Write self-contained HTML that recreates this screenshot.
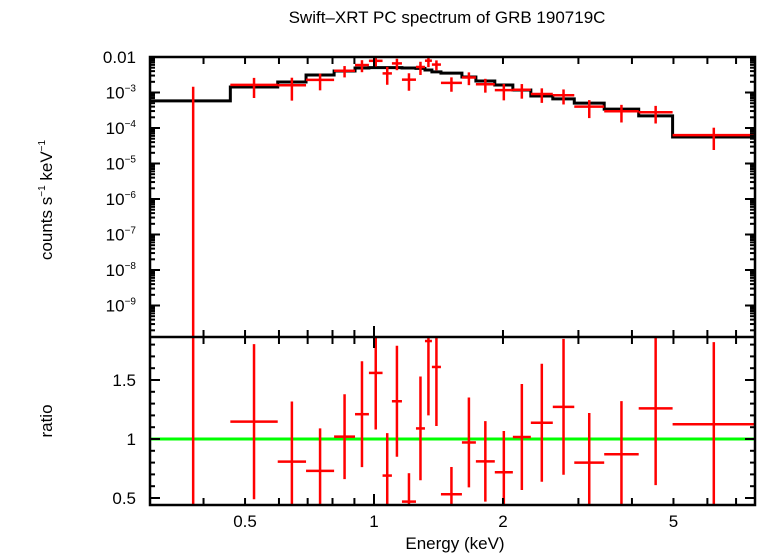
<!DOCTYPE html>
<html><head><meta charset="utf-8"><style>
html,body{margin:0;padding:0;background:#fff;overflow:hidden;width:758px;height:556px;}
svg{display:block;font-family:"Liberation Sans",sans-serif;}
</style></head><body>
<svg id="chart" width="758" height="556" viewBox="0 0 758 556">
<text x="447" y="23" font-size="17" text-anchor="middle">Swift–XRT PC spectrum of GRB 190719C</text>
<text transform="translate(52,200) rotate(-90)" font-size="17" text-anchor="middle">counts s<tspan font-size="10" dy="-7">−1</tspan><tspan dy="7"> keV</tspan><tspan font-size="10" dy="-7">−1</tspan></text>
<text transform="translate(52,421) rotate(-90)" font-size="17" text-anchor="middle">ratio</text>
<text x="455" y="549" font-size="17" text-anchor="middle">Energy (keV)</text>
<defs>
<clipPath id="cTop"><rect x="150" y="57" width="605" height="280"/></clipPath>
<clipPath id="cBot"><rect x="150" y="337" width="605" height="168"/></clipPath>
</defs>
<g id="gTop" clip-path="url(#cTop)"></g>
<g id="gBot" clip-path="url(#cBot)"></g>
<g id="gAxes"></g>
</svg>
<script>
const binEdges = [0.30,0.462,0.596,0.694,0.807,0.903,0.973,1.047,1.101,1.162,1.253,1.315,1.365,1.433,1.604,1.729,1.914,2.109,2.323,2.614,2.934,3.446,4.148,4.977,7.75];
const rate = [-2.9e-4,1.64e-3,1.60e-3,2.27e-3,4.11e-3,5.93e-3,7.8e-3,3.45e-3,6.6e-3,2.3e-3,5.23e-3,7.87e-3,6.12e-3,1.86e-3,2.65e-3,1.71e-3,1.17e-3,1.20e-3,9.1e-4,8.4e-4,4.0e-4,2.96e-4,2.77e-4,6.3e-5];
const rateErr = [1.74e-3,9.4e-4,1.01e-3,1.12e-3,1.45e-3,2.2e-3,2.4e-3,1.8e-3,2.35e-3,1.18e-3,2.11e-3,2.71e-3,1.9e-3,8.1e-4,1.04e-3,7.2e-4,5.7e-4,5.3e-4,4.0e-4,3.8e-4,2.1e-4,1.53e-4,1.43e-4,3.9e-5];
const model = [5.8e-4,1.43e-3,1.98e-3,3.11e-3,4.03e-3,4.9e-3,5.0e-3,5.0e-3,5.0e-3,4.9e-3,4.8e-3,4.3e-3,3.8e-3,3.5e-3,2.73e-3,2.11e-3,1.63e-3,1.18e-3,8.0e-4,6.6e-4,5.0e-4,3.4e-4,2.2e-4,5.6e-5];
const xTickLabels = ["0.5","1","2","5"];
const xTickValues = [0.5,1,2,5];
const yTopTickLabels = ["0.01","10","10","10","10","10","10","10"];
const yTopTickExps = ["","−3","−4","−5","−6","−7","−8","−9"];
const yTopTickValues = [1e-2,1e-3,1e-4,1e-5,1e-6,1e-7,1e-8,1e-9];
const yBotTickValues = [0.5,1,1.5];

const NS="http://www.w3.org/2000/svg";
const X0=150,X1=755,EMIN=0.30,EMAX=7.75;
const YT0=57,YT1=337,LMAX=-2,LMIN=-2-280/35.5;
const YB0=337,YB1=505,RMAX=1+102/118,RMIN=1-66/118;
function xs(e){return X0+(Math.log10(e)-Math.log10(EMIN))/(Math.log10(EMAX)-Math.log10(EMIN))*(X1-X0);}
function ysTop(v){if(v<=0)return YT1+2;return Math.min(YT1+2,YT0+(LMAX-Math.log10(v))/(LMAX-LMIN)*(YT1-YT0));}
function ysBot(r){return Math.max(YB0-2,Math.min(YB1+2,YB0+(RMAX-r)/(RMAX-RMIN)*(YB1-YB0)));}
function mk(tag,attrs,parent){const el=document.createElementNS(NS,tag);for(const k in attrs)el.setAttribute(k,attrs[k]);parent.appendChild(el);return el;}
const gTop=document.getElementById('gTop'),gBot=document.getElementById('gBot'),gAx=document.getElementById('gAxes');

let d="";
for(let i=0;i<model.length;i++){const y=ysTop(model[i]);d+=(i===0?"M":"L")+xs(binEdges[i])+","+y+"L"+xs(binEdges[i+1])+","+y;}
const ml=mk('path',{d:d,fill:'none',stroke:'#000','stroke-width':3},gTop);



const gl=mk('line',{x1:X0,x2:X1,y1:ysBot(1),y2:ysBot(1),stroke:'#00ff00','stroke-width':3},gBot);



for(let i=0;i<rate.length;i++){
  const xa=xs(binEdges[i]),xb=xs(binEdges[i+1]),xc=(xa+xb)/2+(i===0?3:0);
  const g=mk('g',{},gTop);
  
  
  const yc=ysTop(rate[i]);
  mk('line',{x1:xa,x2:xb,y1:yc,y2:yc,stroke:'#f00','stroke-width':2.5},g);
  mk('line',{x1:xc,x2:xc,y1:ysTop(rate[i]+rateErr[i]),y2:ysTop(rate[i]-rateErr[i]),stroke:'#f00','stroke-width':2.5},g);
  const r=rate[i]/model[i],re=rateErr[i]/model[i];
  const g2=mk('g',{},gBot);
  
  
  const yr=ysBot(r);
  mk('line',{x1:xa,x2:xb,y1:yr,y2:yr,stroke:'#f00','stroke-width':2.5},g2);
  mk('line',{x1:xc,x2:xc,y1:ysBot(r+re),y2:ysBot(r-re),stroke:'#f00','stroke-width':2.5},g2);
}

const f1=mk('rect',{x:X0,y:YT0,width:X1-X0,height:YB1-YT0,fill:'none',stroke:'#000','stroke-width':2.5},gAx);


mk('line',{x1:X0,x2:X1,y1:YT1,y2:YT1,stroke:'#000','stroke-width':2.5},gAx);

const minorE=[0.3,0.4,0.5,0.6,0.7,0.8,0.9,1,2,3,4,5,6,7];
minorE.forEach(e=>{const x=xs(e);const L=(e===1)?11:7;
  [[YT0,1],[YT1,-1],[YT1,1],[YB1,-1]].forEach(([y,s])=>mk('line',{x1:x,x2:x,y1:y,y2:y+s*L,stroke:'#000','stroke-width':2},gAx));});
xTickValues.forEach((v,i)=>{const t=mk('text',{x:xs(v),y:527,'font-size':17,'text-anchor':'middle'},gAx);t.textContent=xTickLabels[i];
  
  });

for(let p=-10;p<=-3;p++){for(let m=1;m<10;m++){const v=m*Math.pow(10,p);const y=YT0+(LMAX-Math.log10(v))/(LMAX-LMIN)*(YT1-YT0);if(y<YT0-0.5||y>YT1)continue;const L=m===1?10:5;
  mk('line',{x1:X0,x2:X0+L,y1:y,y2:y,stroke:'#000','stroke-width':2},gAx);mk('line',{x1:X1,x2:X1-L,y1:y,y2:y,stroke:'#000','stroke-width':2},gAx);}}
yTopTickValues.forEach((v,i)=>{const t=mk('text',{x:136,y:ysTop(v)+6,'font-size':17,'text-anchor':'end'},gAx);
  t.textContent=yTopTickLabels[i];
  if(yTopTickExps[i]){const s=mk('tspan',{'font-size':10,dy:-7},t);s.textContent=yTopTickExps[i];}
  
  });

for(let k=5;k<=18;k++){const r=k/10;const y=ysBot(r);const L=(k%5===0)?10:5;
  mk('line',{x1:X0,x2:X0+L,y1:y,y2:y,stroke:'#000','stroke-width':2},gAx);mk('line',{x1:X1,x2:X1-L,y1:y,y2:y,stroke:'#000','stroke-width':2},gAx);}
yBotTickValues.forEach(v=>{const t=mk('text',{x:136,y:ysBot(v)+6,'font-size':17,'text-anchor':'end'},gAx);t.textContent=String(v);
  
  });
</script>
</body></html>
